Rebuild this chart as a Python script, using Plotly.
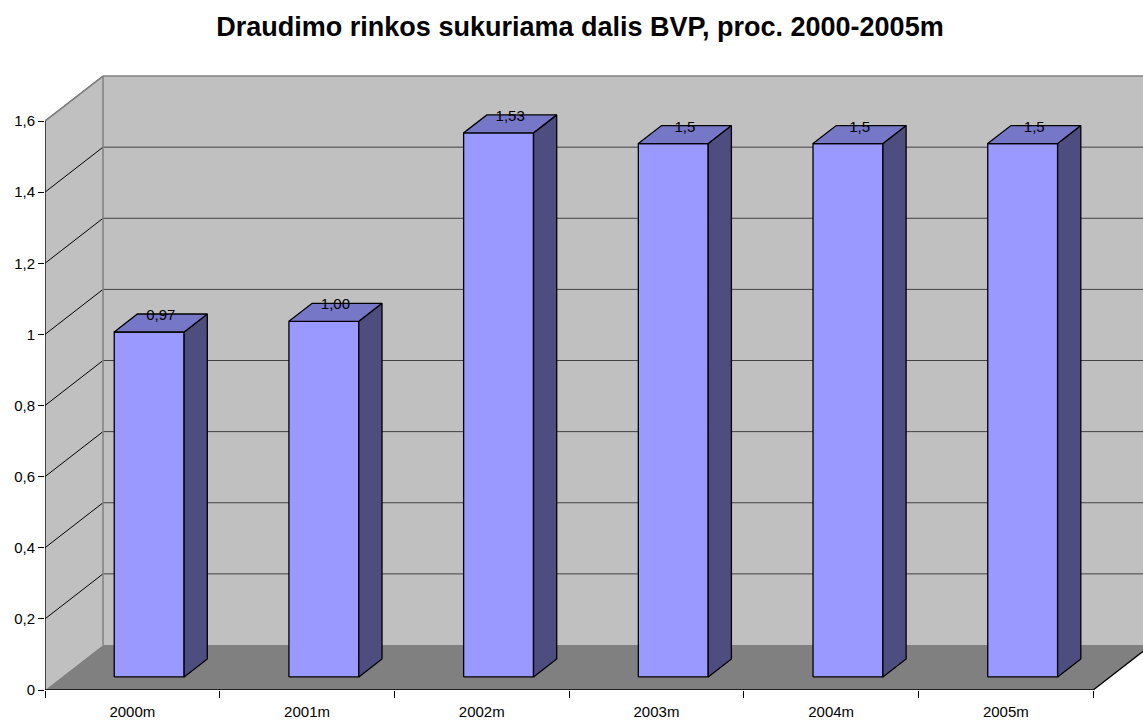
import plotly.graph_objects as go

categories = ["2000m", "2001m", "2002m", "2003m", "2004m", "2005m"]
values = [0.97, 1.00, 1.53, 1.5, 1.5, 1.5]
value_labels = ["0,97", "1,00", "1,53", "1,5", "1,5", "1,5"]
y_ticks = [0, 0.2, 0.4, 0.6, 0.8, 1.0, 1.2, 1.4, 1.6]
y_tick_labels = ["0", "0,2", "0,4", "0,6", "0,8", "1", "1,2", "1,4", "1,6"]

FONT = "Liberation Sans, Arial, sans-serif"
DX = 58 / 174.7      # depth offset in x units
DY = 45 / 355.6      # depth offset in y units
BW = 0.40            # bar width
D0, D1 = 0.29, 0.69  # bar depth range (fraction of full depth)
YMAX = 1.6
XL, XR = -0.5, len(categories) - 0.5

front_x, front_y, top_x, top_y, side_x, side_y = [], [], [], [], [], []
bx, by = (D1 - D0) * DX, (D1 - D0) * DY
for i, v in enumerate(values):
    x0 = i - BW / 2 + D0 * DX
    x1 = i + BW / 2 + D0 * DX
    y0 = D0 * DY
    y1 = v + D0 * DY
    front_x += [x0, x1, x1, x0, x0, None]
    front_y += [y0, y0, y1, y1, y0, None]
    top_x += [x0, x1, x1 + bx, x0 + bx, x0, None]
    top_y += [y1, y1, y1 + by, y1 + by, y1, None]
    side_x += [x1, x1 + bx, x1 + bx, x1, x1, None]
    side_y += [y0, y0 + by, y1 + by, y1, y0, None]

fig = go.Figure()
line = dict(color="black", width=1.3)
fig.add_trace(go.Scatter(x=front_x, y=front_y, fill="toself", fillcolor="#9999FF",
                         mode="lines", line=line, hoverinfo="skip", showlegend=False))
fig.add_trace(go.Scatter(x=side_x, y=side_y, fill="toself", fillcolor="#4D4D80",
                         mode="lines", line=line, hoverinfo="skip", showlegend=False))
fig.add_trace(go.Scatter(x=top_x, y=top_y, fill="toself", fillcolor="#7777C8",
                         mode="lines", line=line, hoverinfo="skip", showlegend=False))

dmid = (D0 + D1) / 2
fig.add_trace(go.Scatter(
    x=[i + dmid * DX for i in range(len(values))],
    y=[v + dmid * DY + 0.019 for v in values],
    mode="text", text=value_labels, textposition="middle center",
    textfont=dict(family=FONT, size=15, color="black"),
    hoverinfo="skip", showlegend=False, cliponaxis=False))

shapes = []
BIG = XR + 5
# side wall
shapes.append(dict(type="path", xref="x", yref="y", layer="below",
                   path=f"M {XL},0 L {XL+DX},{DY} L {XL+DX},{YMAX+DY} L {XL},{YMAX} Z",
                   fillcolor="#C0C0C0", line=dict(width=0)))
# back wall
shapes.append(dict(type="rect", xref="x", yref="y", layer="below",
                   x0=XL + DX, x1=BIG, y0=DY, y1=YMAX + DY,
                   fillcolor="#C0C0C0", line=dict(width=0)))
# floor
shapes.append(dict(type="path", xref="x", yref="y", layer="below",
                   path=f"M {XL},0 L {XR},0 L {XR+DX},{DY} L {XL+DX},{DY} Z",
                   fillcolor="#808080", line=dict(width=0)))
# gridlines
for t in y_ticks[1:-1]:
    shapes.append(dict(type="line", xref="x", yref="y", layer="below",
                       x0=XL + DX, x1=BIG, y0=t + DY, y1=t + DY,
                       line=dict(color="#404040", width=1)))
for t in y_ticks[1:]:
    shapes.append(dict(type="line", xref="x", yref="y", layer="below",
                       x0=XL, x1=XL + DX, y0=t, y1=t + DY,
                       line=dict(color="black", width=1)))
# wall edges (gray)
shapes.append(dict(type="line", xref="x", yref="y", layer="below",
                   x0=XL + DX, x1=XL + DX, y0=DY, y1=YMAX + DY,
                   line=dict(color="#808080", width=1.5)))
shapes.append(dict(type="line", xref="x", yref="y", layer="below",
                   x0=XL + DX, x1=BIG, y0=YMAX + DY, y1=YMAX + DY,
                   line=dict(color="#808080", width=1.5)))
shapes.append(dict(type="line", xref="x", yref="y", layer="below",
                   x0=XL, x1=XL + DX, y0=YMAX, y1=YMAX + DY,
                   line=dict(color="#808080", width=1.5)))
# axes lines (black)
shapes.append(dict(type="line", xref="x", yref="y", layer="below",
                   x0=XL, x1=XL, y0=0, y1=YMAX, line=dict(color="black", width=1.3)))
shapes.append(dict(type="line", xref="x", yref="y", layer="below",
                   x0=XL, x1=XR, y0=0, y1=0, line=dict(color="black", width=1.3)))
shapes.append(dict(type="line", xref="x", yref="y", layer="below",
                   x0=XR, x1=XR + DX, y0=0, y1=DY, line=dict(color="black", width=1.3)))

T, B = 60, 32
PX_PER_UNIT = 355.6
y_top = (722 - B - T) / PX_PER_UNIT
x_right = XL + (1143 - 45) / 174.7

fig.update_layout(
    width=1143, height=722,
    margin=dict(l=45, r=0, t=T, b=B),
    paper_bgcolor="white", plot_bgcolor="white",
    shapes=shapes,
    title=dict(text="<b>Draudimo rinkos sukuriama dalis BVP, proc. 2000-2005m</b>",
               x=580 / 1143, xanchor="center", xref="container", y=1 - 27 / 722, yanchor="middle",
               yref="container",
               font=dict(family=FONT, size=27, color="black")),
    font=dict(family=FONT, size=15, color="black"),
    xaxis=dict(range=[XL, x_right], showgrid=False, zeroline=False, showline=False,
               tickmode="array", tickvals=list(range(len(categories))), ticktext=categories,
               ticks="", ticklabelstandoff=11, tickfont=dict(family=FONT, size=15, color="black"),
               minor=dict(tickmode="linear", tick0=-0.5, dtick=1, ticks="outside",
                          ticklen=7, tickcolor="black", tickwidth=1, showgrid=False),
               fixedrange=True),
    yaxis=dict(range=[0, y_top], showgrid=False, zeroline=False, showline=False,
               tickmode="array", tickvals=y_ticks, ticktext=y_tick_labels,
               ticks="outside", ticklen=6, tickcolor="black", tickwidth=1,
               tickfont=dict(family=FONT, size=15, color="black"),
               fixedrange=True),
)

fig.write_html("out.html", config={"displayModeBar": False},
               post_script="document.body.style.margin='0';document.body.style.overflow='hidden';")
